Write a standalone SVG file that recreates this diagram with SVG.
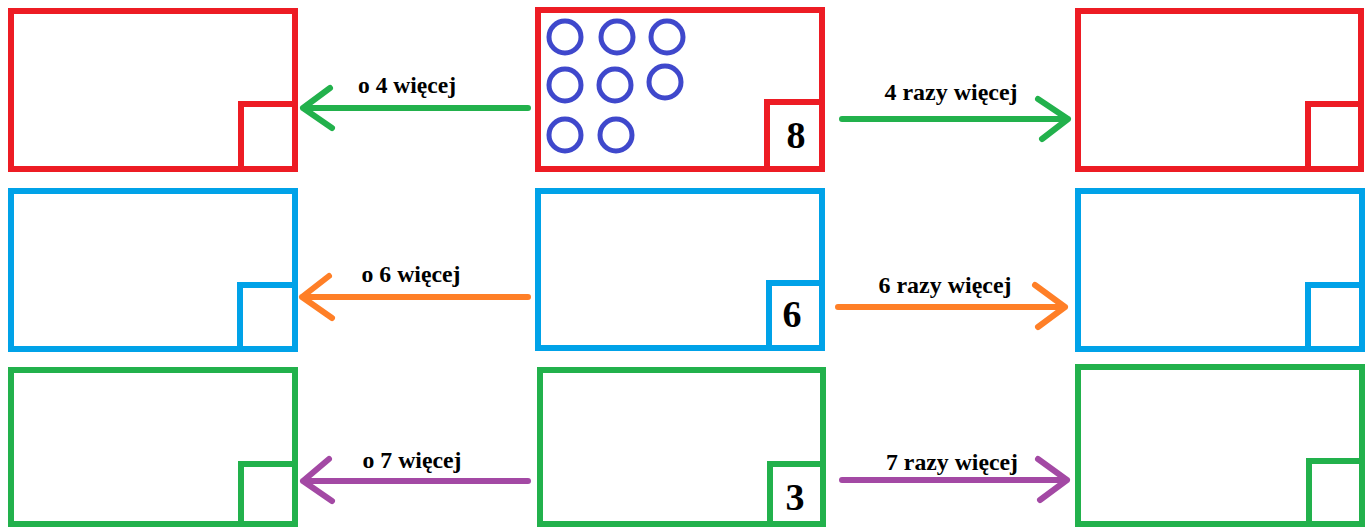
<svg xmlns="http://www.w3.org/2000/svg" width="1372" height="528" viewBox="0 0 1372 528">
<style>
.box{fill:none;stroke-width:6}
.red{stroke:#ED1C24}
.blue{stroke:#00A2E8}
.grn{stroke:#22B14C}
.dot{fill:none;stroke:#3F48CC;stroke-width:5}
.arr{fill:none;stroke-width:6;stroke-linecap:round;stroke-linejoin:round}
.lbl{font-family:"Liberation Serif","Times New Roman",serif;font-weight:bold;font-size:23px;fill:#000;text-anchor:middle}
.num{font-family:"Liberation Serif","Times New Roman",serif;font-weight:bold;font-size:38px;fill:#000;text-anchor:middle}
</style>
<rect width="1372" height="528" fill="#fff"/>
<g id="r1-left"><rect class="box red" x="11" y="11" width="284" height="158"/><path class="box red" d="M241,169 V104 H295"/></g>
<g id="r1-mid"><rect class="box red" x="538" y="10" width="284" height="159"/><path class="box red" d="M767,169 V102 H822"/>
<circle class="dot" cx="565" cy="37" r="16"/><circle class="dot" cx="617" cy="37" r="16"/><circle class="dot" cx="667" cy="37" r="16"/>
<circle class="dot" cx="565" cy="85" r="16"/><circle class="dot" cx="615" cy="85" r="16"/><circle class="dot" cx="665" cy="82" r="16"/>
<circle class="dot" cx="565" cy="135" r="16"/><circle class="dot" cx="616" cy="135" r="16"/>
<text class="num" x="796" y="148">8</text></g>
<g id="r1-right"><rect class="box red" x="1078" y="11" width="283" height="158"/><path class="box red" d="M1308,169 V104 H1361"/></g>
<g id="r2-left"><rect class="box blue" x="11" y="191" width="284" height="158"/><path class="box blue" d="M240,349 V285 H295"/></g>
<g id="r2-mid"><rect class="box blue" x="538" y="191" width="284" height="157"/><path class="box blue" d="M769,348 V283 H822"/><text class="num" x="792" y="327">6</text></g>
<g id="r2-right"><rect class="box blue" x="1078" y="191" width="284" height="158"/><path class="box blue" d="M1308,349 V285 H1362"/></g>
<g id="r3-left"><rect class="box grn" x="11" y="370" width="284" height="154"/><path class="box grn" d="M241,524 V464 H295"/></g>
<g id="r3-mid"><rect class="box grn" x="540" y="370" width="283" height="154"/><path class="box grn" d="M770,524 V464 H823"/><text class="num" x="795" y="510">3</text></g>
<g id="r3-right"><rect class="box grn" x="1078" y="367" width="284" height="157"/><path class="box grn" d="M1309,524 V461 H1362"/></g>
<g id="connectors">
<path class="arr" stroke="#22B14C" d="M528,108 H303 M330,88 L303,108 L332,128"/>
<path class="arr" stroke="#22B14C" d="M842,119 H1068 M1038,99 L1068,119 L1042,139"/>
<path class="arr" stroke="#FF7F27" d="M528,297 H302 M329,276 L302,297 L332,318"/>
<path class="arr" stroke="#FF7F27" d="M838,307 H1065 M1035,285 L1065,307 L1038,327"/>
<path class="arr" stroke="#A349A4" d="M528,481 H303 M329,459 L303,481 L332,501"/>
<path class="arr" stroke="#A349A4" d="M842,480 H1067 M1038,459 L1067,480 L1040,500"/>
<text class="lbl" x="407" y="93" textLength="98" lengthAdjust="spacingAndGlyphs">o 4 więcej</text>
<text class="lbl" x="951" y="100" textLength="133" lengthAdjust="spacingAndGlyphs">4 razy więcej</text>
<text class="lbl" x="411" y="282" textLength="99" lengthAdjust="spacingAndGlyphs">o 6 więcej</text>
<text class="lbl" x="945" y="293" textLength="133" lengthAdjust="spacingAndGlyphs">6 razy więcej</text>
<text class="lbl" x="412" y="468" textLength="99" lengthAdjust="spacingAndGlyphs">o 7 więcej</text>
<text class="lbl" x="952" y="470" textLength="132" lengthAdjust="spacingAndGlyphs">7 razy więcej</text>
</g>
</svg>
